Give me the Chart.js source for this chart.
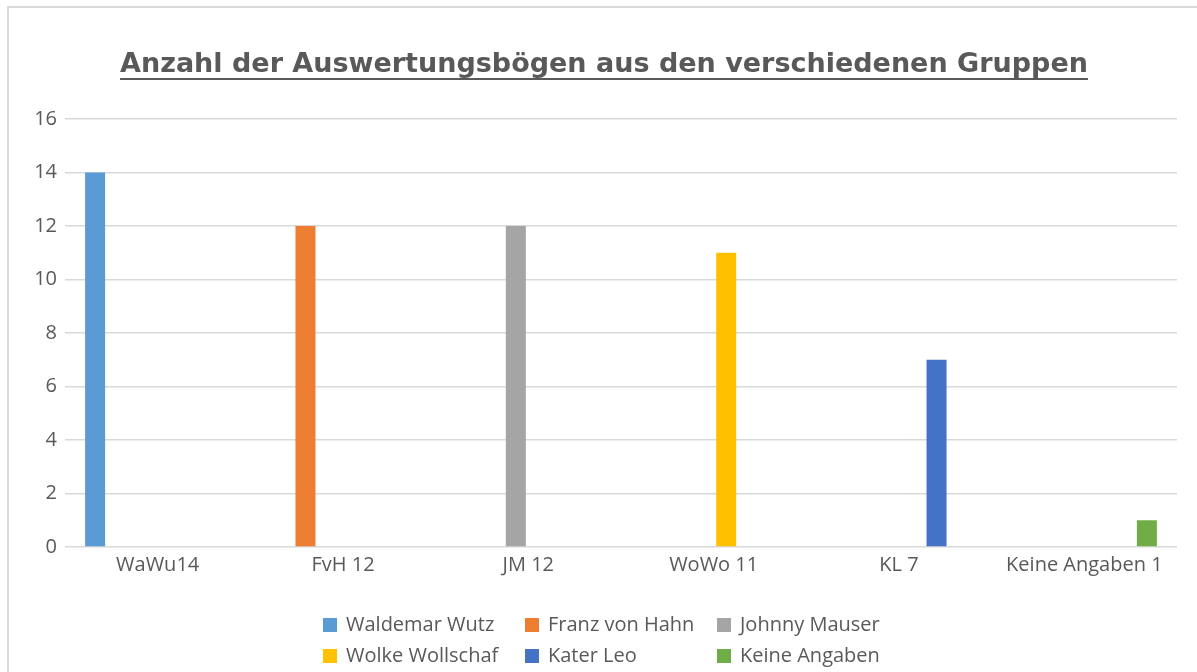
<!DOCTYPE html>
<html lang="de">
  <head>
    <meta charset="UTF-8" />
    <title>Anzahl der Auswertungsbögen</title>
    <script src="https://cdn.jsdelivr.net/npm/chart.js"></script>
    <style>
      html, body { margin: 0; padding: 0; background: #fff; }
      #wrap { position: relative; width: 1197px; height: 672px; }
    </style>
  </head>
  <body>
    <div id="wrap"><canvas id="chart"></canvas></div>
    <script>
      // data
      const categories = ['WaWu14', 'FvH 12', 'JM 12', 'WoWo 11', 'KL 7', 'Keine Angaben 1'];
      const groups = ['Waldemar Wutz', 'Franz von Hahn', 'Johnny Mauser', 'Wolke Wollschaf', 'Kater Leo', 'Keine Angaben'];
      const counts = [14, 12, 12, 11, 7, 1];
      const colors = ['#5B9BD5', '#ED7D31', '#A5A5A5', '#FFC000', '#4472C4', '#70AD47'];
      const yTicks = [0, 2, 4, 6, 8, 10, 12, 14, 16];

      const titleText = 'Anzahl der Auswertungsbögen aus den verschiedenen Gruppen';
      const textColor = '#595959';
      const gridColor = '#d9d9d9';
      const fontFamily = '"Open Sans", Lato, sans-serif';

      // one dataset per group, value only in its own category
      const datasets = groups.map((name, i) => ({
        label: name,
        data: categories.map((c, j) => (j === i ? counts[i] : null)),
        backgroundColor: colors[i],
        borderWidth: 0,
        categoryPercentage: 0.81,
        barPercentage: 0.8
      }));

      // frame around the whole chart
      const framePlugin = {
        id: 'frame',
        beforeDraw(chart) {
          const ctx = chart.ctx;
          ctx.save();
          ctx.strokeStyle = gridColor;
          ctx.lineWidth = 2;
          ctx.strokeRect(8, 7, 3000, 3000);
          ctx.restore();
        }
      };

      // underlined title
      const titlePlugin = {
        id: 'underlinedTitle',
        afterDraw(chart) {
          const ctx = chart.ctx;
          ctx.save();
          ctx.font = 'bold 27px "DejaVu Sans", sans-serif';
          ctx.fillStyle = textColor;
          ctx.textAlign = 'center';
          ctx.textBaseline = 'alphabetic';
          const cx = 604;
          ctx.fillText(titleText, cx, 72);
          const w = ctx.measureText(titleText).width;
          ctx.fillRect(cx - w / 2, 78, w, 2);
          ctx.restore();
        }
      };

      // legend in a 3 x 2 grid
      const gridLegend = {
        id: 'gridLegend',
        afterDraw(chart) {
          const ctx = chart.ctx;
          const colX = [323, 525, 717];
          const rowY = [625, 656];
          ctx.save();
          ctx.font = '20px ' + fontFamily;
          ctx.textBaseline = 'middle';
          ctx.textAlign = 'left';
          chart.data.datasets.forEach((ds, i) => {
            const x = colX[i % 3];
            const y = rowY[Math.floor(i / 3)];
            ctx.fillStyle = ds.backgroundColor;
            ctx.fillRect(x, y - 7, 14, 14);
            ctx.fillStyle = textColor;
            ctx.fillText(ds.label, x + 23, y);
          });
          ctx.restore();
        }
      };

      new Chart(document.getElementById('chart'), {
        type: 'bar',
        data: { labels: categories, datasets: datasets },
        options: {
          responsive: true,
          maintainAspectRatio: false,
          animation: false,
          layout: { padding: { top: 119, right: 20, bottom: 85, left: 0 } },
          plugins: {
            legend: { display: false },
            title: { display: false },
            tooltip: { enabled: false }
          },
          scales: {
            x: {
              grid: { display: false, drawTicks: false },
              border: { display: false },
              ticks: {
                color: textColor,
                font: { family: fontFamily, size: 20 },
                padding: 6,
                maxRotation: 0,
                autoSkip: false
              },
              afterFit(scale) { scale.height = 40; }
            },
            y: {
              min: 0,
              max: yTicks[yTicks.length - 1],
              afterBuildTicks(scale) { scale.ticks = yTicks.map(v => ({ value: v })); },
              grid: { color: gridColor, lineWidth: 1.5, drawTicks: false },
              border: { display: false },
              ticks: {
                color: textColor,
                font: { family: fontFamily, size: 20 },
                padding: 8
              },
              afterFit(scale) { scale.width = 65; }
            }
          }
        },
        plugins: [framePlugin, titlePlugin, gridLegend]
      });
    </script>
  </body>
</html>
